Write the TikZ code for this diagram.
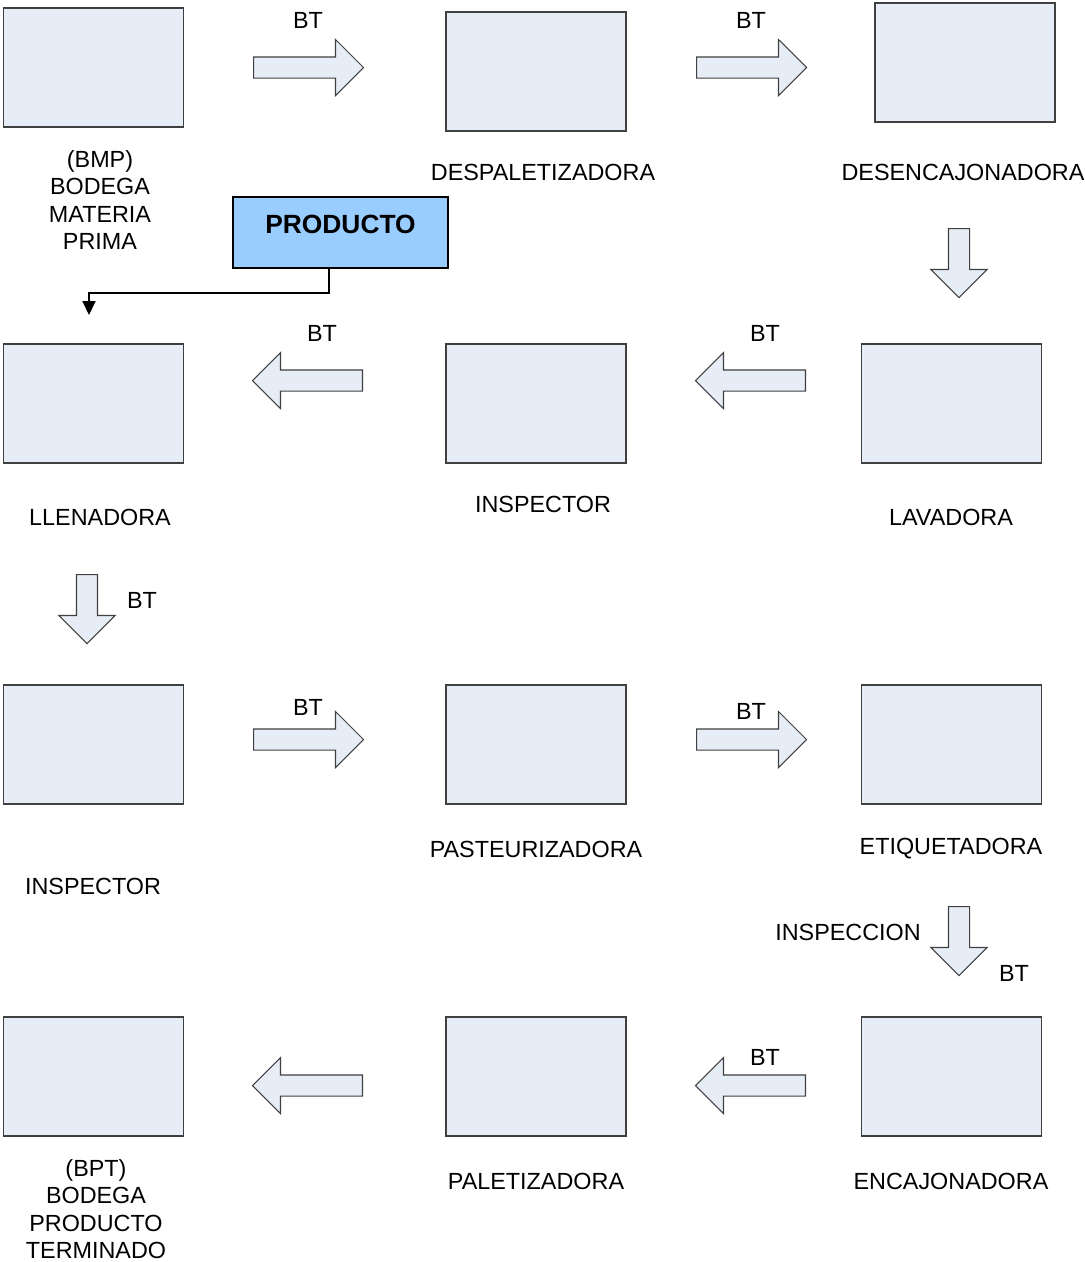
\documentclass[tikz,border=0pt]{standalone}
\usepackage{fontspec}
\setmainfont{Liberation Sans}
\usetikzlibrary{shapes.arrows,arrows.meta}
\definecolor{boxfill}{HTML}{E6EDF7}
\definecolor{prodfill}{HTML}{99CCFF}
\definecolor{edgegray}{HTML}{404040}
\begin{document}
\begin{tikzpicture}[x=0.02cm,y=-0.02cm,
    font=\fontsize{13.3}{15.6}\selectfont,
    machine/.style={draw=edgegray,line width=0.8pt,fill=boxfill,
      minimum width=3.6cm,minimum height=2.38cm,inner sep=0},
    flow/.style={single arrow,draw=edgegray,line width=0.6pt,fill=boxfill,
      inner xsep=0,inner ysep=0.2cm,minimum height=2.2cm,
      single arrow head extend=0.35cm,anchor=tail},
    toleft/.style={flow,rotate=180},
    todown/.style={flow,rotate=-90,minimum height=1.38cm},
    tag/.style={align=center,inner sep=0}]
  \useasboundingbox (0,0) rectangle (1085,1262);
  % machines
  \node[machine] (bmp) at (93.5,67.5) {};
  \node[machine] (despal) at (536,71.5) {};
  \node[machine] (desenc) at (965,62.5) {};
  \node[machine] (llen) at (93.5,403.5) {};
  \node[machine] (insp1) at (536,403.5) {};
  \node[machine] (lav) at (951.5,403.5) {};
  \node[machine] (insp2) at (93.5,744.5) {};
  \node[machine] (past) at (536,744.5) {};
  \node[machine] (etiq) at (951.5,744.5) {};
  \node[machine] (bpt) at (93.5,1076.5) {};
  \node[machine] (palet) at (536,1076.5) {};
  \node[machine] (encaj) at (951.5,1076.5) {};
  % names
  \node[tag] (nbmp) at (100,200) {(BMP)\\BODEGA\\MATERIA\\PRIMA};
  \node[tag] (ndespal) at (543,172) {DESPALETIZADORA};
  \node[tag] (ndesenc) at (963,172) {DESENCAJONADORA};
  \node[tag] (nllen) at (100,517) {LLENADORA};
  \node[tag] (ninsp1) at (543,504) {INSPECTOR};
  \node[tag] (nlav) at (951,517) {LAVADORA};
  \node[tag] (ninsp2) at (93,886) {INSPECTOR};
  \node[tag] (npast) at (536,849) {PASTEURIZADORA};
  \node[tag] (netiq) at (951,849) {ETIQUETADORA};
  \node[tag] (nbpt) at (96,1209) {(BPT)\\BODEGA\\PRODUCTO\\TERMINADO};
  \node[tag] (npalet) at (536,1181) {PALETIZADORA};
  \node[tag] (nencaj) at (951,1181) {ENCAJONADORA};
  % block arrows
  \node[flow] (a1) at (253,67.5) {};
  \node[flow] (a2) at (696,67.5) {};
  \node[todown] (a3) at (959,228) {};
  \node[toleft] (a4) at (806,380.5) {};
  \node[toleft] (a5) at (363,380.5) {};
  \node[todown] (a6) at (87,574) {};
  \node[flow] (a7) at (253,739.5) {};
  \node[flow] (a8) at (696,739.5) {};
  \node[todown] (a9) at (959,906) {};
  \node[toleft] (a10) at (806,1085.5) {};
  \node[toleft] (a11) at (363,1085.5) {};
  % arrow labels
  \node[tag] (t1) at (308,20) {BT};
  \node[tag] (t2) at (751,20) {BT};
  \node[tag] (t4) at (765,333) {BT};
  \node[tag] (t5) at (322,333) {BT};
  \node[tag] (t6) at (142,600) {BT};
  \node[tag] (t7) at (308,707) {BT};
  \node[tag] (t8) at (751,711) {BT};
  \node[tag] (t9a) at (848,932) {INSPECCION};
  \node[tag] (t9b) at (1014,973) {BT};
  \node[tag] (t10) at (765,1057) {BT};
  % product input
  \node[draw=black,line width=0.8pt,fill=prodfill,minimum width=4.3cm,
    minimum height=1.42cm,inner sep=0,text height=0.22cm,text depth=0.2cm,
    font=\fontsize{15}{18}\selectfont\bfseries] (prod) at (340.5,232.5) {PRODUCTO};
  \coordinate (feed) at (89,315);
  \draw[line width=1pt,-{Triangle[length=0.28cm,width=0.26cm]}]
    ([xshift=-0.23cm]prod.south) -- ++(0,24) -| (feed);
\end{tikzpicture}
\end{document}
